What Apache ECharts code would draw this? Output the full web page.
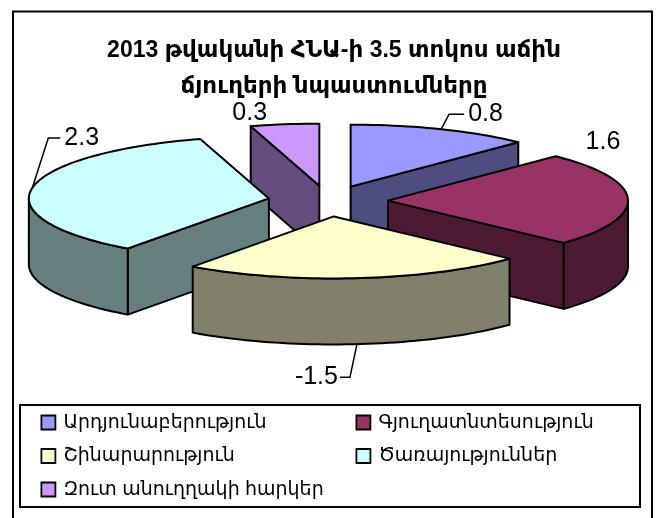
<!DOCTYPE html>
<html><head><meta charset="utf-8">
<style>html,body{margin:0;padding:0;background:#fff}#c{width:658px;height:518px}</style>
<script src="https://cdn.jsdelivr.net/npm/echarts@6/dist/echarts.min.js"></script>
</head><body><div id="c"></div>
<script>
const categories = ['Արդյունաբերություն','Գյուղատնտեսություն','Շինարարություն','Ծառայություններ','Զուտ անուղղակի հարկեր'];
const values = [0.8, 1.6, -1.5, 2.3, 0.3];
const titleLines = ['2013 թվականի ՀՆԱ-ի 3.5 տոկոս աճին','ճյուղերի նպաստումները'];
const topColors = ['#9999FF','#993366','#FFFFCC','#CCFFFF','#CC99FF'];
const sideColors = ['#4D4D80','#4D1A33','#80806B','#668080','#664D80'];

const FONT = '"Liberation Sans","DejaVu Sans",sans-serif';
const explode = 0.25, depth = 1.065;
const total = values.reduce((a,v)=>a+Math.abs(v),0);
const slices = []; let acc = 0;
values.forEach(v=>{
  const a0 = acc/total*2*Math.PI; acc += Math.abs(v);
  const a1 = acc/total*2*Math.PI, m=(a0+a1)/2;
  slices.push({a0,a1,m,ax:explode*Math.sin(m),ay:explode*Math.cos(m)});
});
const rank = slices.map((s,i)=>i).sort((p,q)=>slices[q].ay-slices[p].ay);
// label placement: pixel offsets from the arc anchor; leader elbow offsets (null = no leader)
const labelPlace = [
  {dx:27, dy:-15, elbow:[8,-15], align:'left'},
  {dx:-25, dy:-57, elbow:null, align:'center'},
  {dx:-19, dy:33, elbow:[-7,33], align:'right', bottom:true},
  {dx:32, dy:-50, elbow:[16,-50], align:'left'},
  {dx:-35, dy:-11, elbow:null, align:'center'}
];
function renderSlice(idx){
  return function(params, api){
    const s = slices[idx];
    const P = (x,y)=>api.coord([s.ax+x, s.ay+y]);
    const arc = (a,b,off)=>{const n=Math.max(2,Math.ceil((b-a)/0.03));const r=[];
      for(let i=0;i<=n;i++){const t=a+(b-a)*i/n;r.push(P(Math.sin(t),Math.cos(t)-off));}return r;};
    const stroke = {stroke:'#000',lineWidth:2,lineJoin:'round'};
    const kids=[];
    const wall=(pts,fill)=>kids.push({type:'polygon',shape:{points:pts},style:Object.assign({fill},stroke)});
    const radial=(t)=>wall([P(0,0),P(Math.sin(t),Math.cos(t)),P(Math.sin(t),Math.cos(t)-depth),P(0,-depth)],sideColors[idx]);
    if(Math.sin(s.a0)<-1e-6) radial(s.a0);
    if(Math.sin(s.a1)>1e-6) radial(s.a1);
    const lo=Math.max(s.a0,Math.PI/2), hi=Math.min(s.a1,3*Math.PI/2);
    if(hi>lo) wall(arc(lo,hi,0).concat(arc(lo,hi,depth).reverse()),sideColors[idx]);
    kids.push({type:'polygon',shape:{points:[P(0,0)].concat(arc(s.a0,s.a1,0))},style:Object.assign({fill:topColors[idx]},stroke)});
    const lp=labelPlace[idx];
    const anchor=P(Math.sin(s.m),Math.cos(s.m)-(lp.bottom?depth:0));
    const tx=anchor[0]+lp.dx, ty=anchor[1]+lp.dy;
    if(lp.elbow){
      kids.push({type:'polyline',shape:{points:[anchor,[anchor[0]+lp.elbow[0],anchor[1]+lp.elbow[1]],[tx+(lp.align==='left'?-4:2),ty]]},style:{stroke:'#000',lineWidth:1.5,fill:null}});
    }
    kids.push({type:'text',x:tx,y:ty,style:{text:String(api.value(0)),x:0,y:0,fill:'#000',font:'25px '+FONT,align:lp.align,verticalAlign:'middle'}});
    return {type:'group',children:kids};
  };
}
const series = categories.map((name,i)=>({
  type:'custom',name,coordinateSystem:'cartesian2d',clip:false,silent:true,z:10+rank.indexOf(i),
  itemStyle:{color:topColors[i]},data:[[values[i]]],encode:{x:[],y:[]},renderItem:renderSlice(i),animation:false
}));
const legendBase={orient:'vertical',padding:0,itemWidth:14,itemHeight:14,itemGap:14.5,icon:'rect',selectedMode:false,
  itemStyle:{borderColor:'#000',borderWidth:1.8},
  textStyle:{fontFamily:FONT,fontSize:19,color:'#000',padding:[0,0,0,3]}};
const chart=echarts.init(document.getElementById('c'),null,{renderer:'canvas'});
chart.setOption({
  animation:false,backgroundColor:'#fff',
  graphic:[
    {type:'rect',z:0,shape:{x:13,y:11.5,width:639,height:520},style:{fill:'#fff',stroke:'#000',lineWidth:2}},
    {type:'rect',z:1,shape:{x:20,y:405,width:620,height:102},style:{fill:'#fff',stroke:'#000',lineWidth:2}}
  ],
  title:{text:titleLines.join('\n'),left:329,top:28,textAlign:'center',
    textStyle:{fontFamily:FONT,fontWeight:'bold',fontSize:23,lineHeight:36,color:'#000'}},
  grid:{left:28,top:108,width:600,height:248},
  xAxis:{type:'value',min:-1.25,max:1.25,show:false},
  yAxis:{type:'value',min:-2.5,max:1.5,show:false},
  legend:[
    Object.assign({},legendBase,{left:40.5,top:413,data:[categories[0],categories[2],categories[4]]}),
    Object.assign({},legendBase,{left:355.5,top:413,data:[categories[1],categories[3]]})
  ],
  series
});
</script></body></html>
